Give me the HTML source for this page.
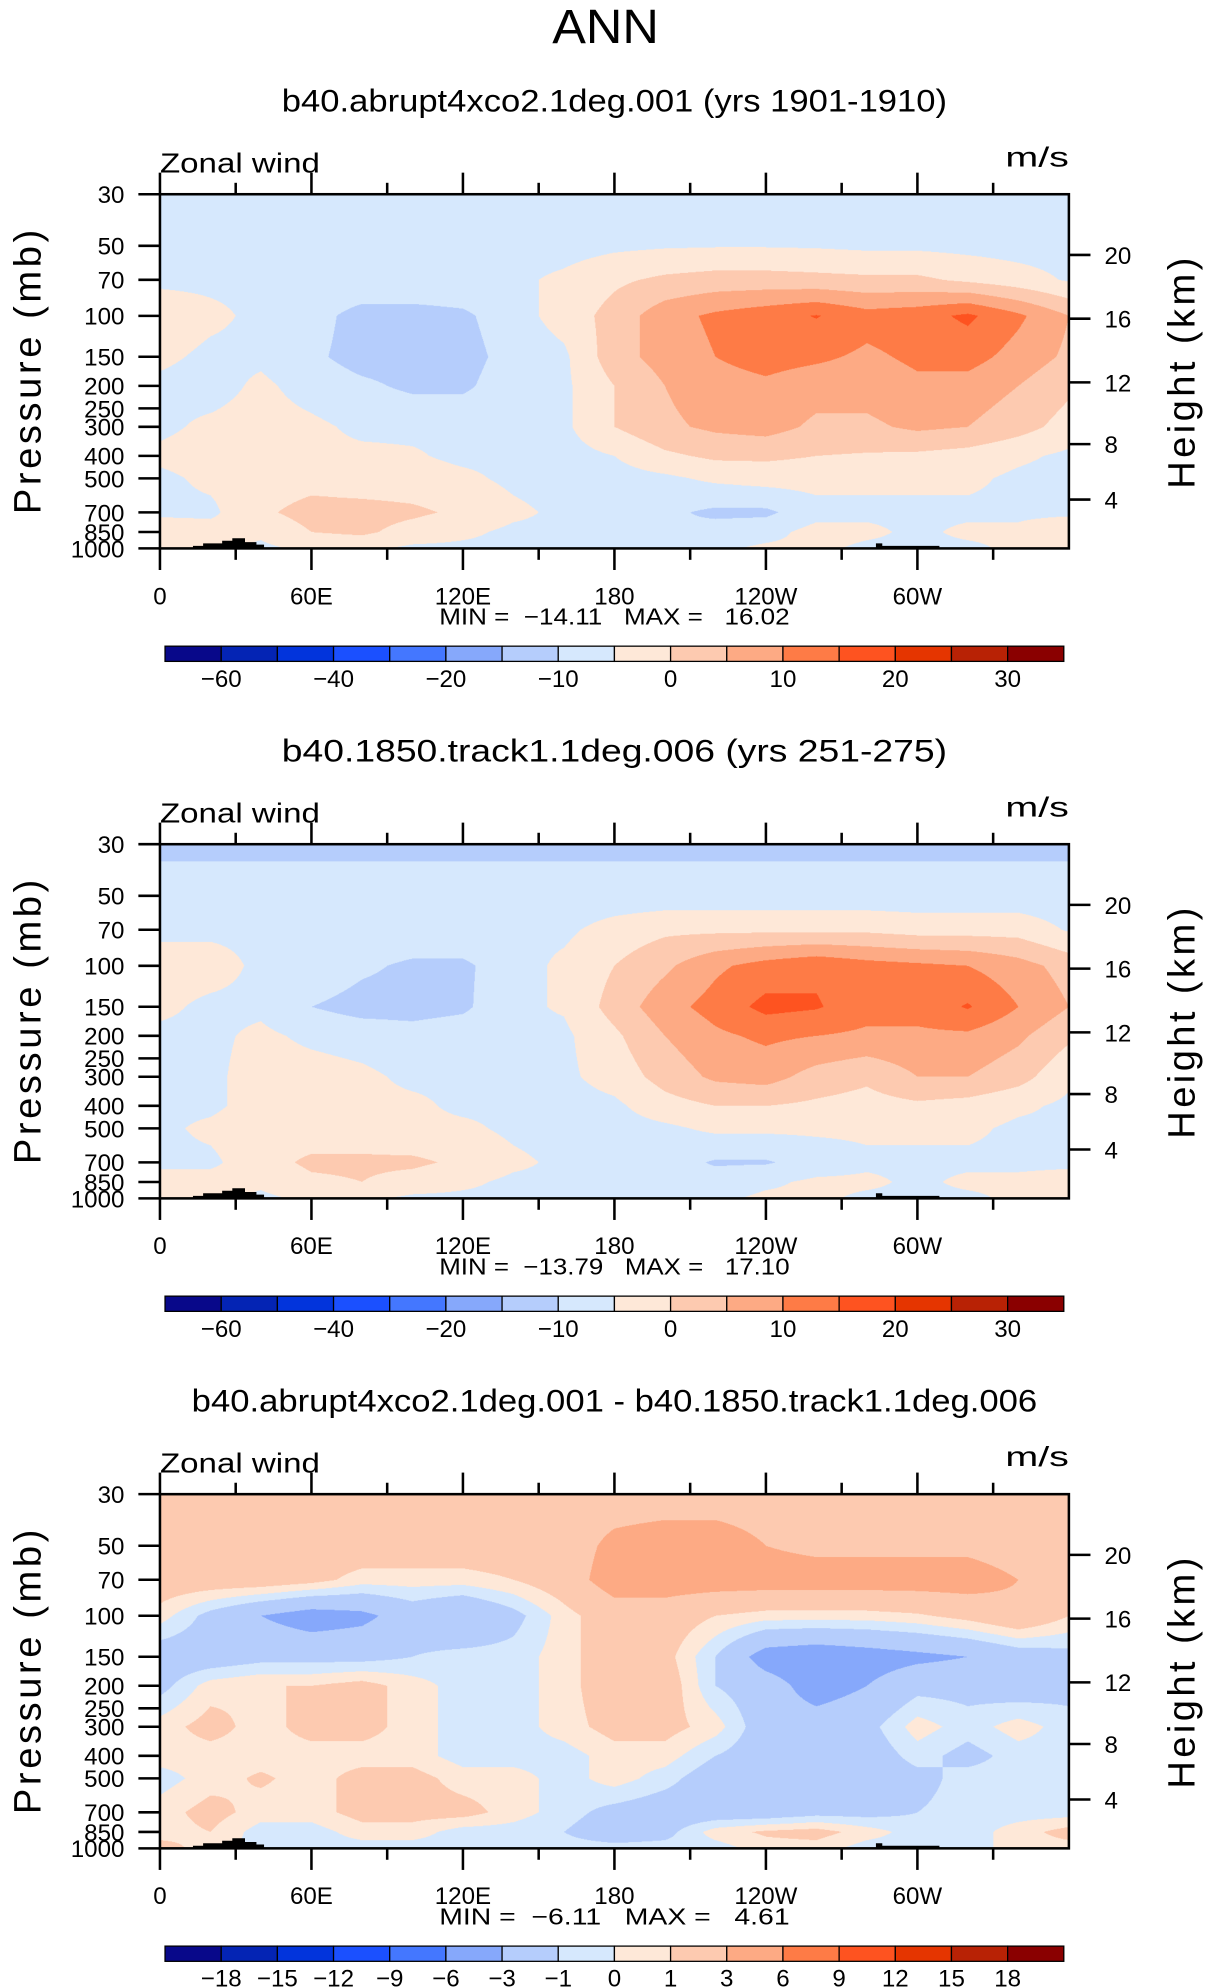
<!DOCTYPE html>
<html><head><meta charset="utf-8">
<style>
html,body{margin:0;padding:0;background:#fff;}
#wrap{position:relative;width:950px;height:1565px;transform:scale(1.26947);transform-origin:0 0;overflow:hidden;}
canvas{position:absolute;left:126px;width:716px;height:279px;}
svg{position:absolute;left:0;top:0;}
text{font-family:"Liberation Sans",sans-serif;fill:#000;white-space:pre;}
</style></head>
<body>
<div id="wrap">
<canvas id="c0" width="1432" height="558" style="top:153px"></canvas>
<canvas id="c1" width="1432" height="558" style="top:665px"></canvas>
<canvas id="c2" width="1432" height="558" style="top:1177px"></canvas>
<svg id="ov" width="950" height="1565" viewBox="0 0 950 1565">
<text x="477" y="34" font-size="38" text-anchor="middle" textLength="84" lengthAdjust="spacingAndGlyphs">ANN</text>
</svg>
</div>
<script>
const lons=[0,20,40,60,80,100,120,140,160,180,200,220,240,260,280,300,320,340,360];
const levs=[30,50,70,100,150,200,300,400,500,700,850,1000];
const caseU1=[
[-8,-8,-8,-8,-8,-8,-8,-8,-8,-8,-8,-8,-8,-8,-8,-8,-8,-8,-8],
[-7,-7,-7,-7,-7,-7,-7,-7,-7,-6,-5.5,-5.3,-5.3,-5.5,-6,-6,-6.5,-7,-7],
[-6,-6,-6,-6,-6,-6,-6,-6,-4,-1,1,2,2,1.5,1,1,-1,-3,-5.5],
[-2,-4,-6,-8,-12,-12,-11,-7,-3,2,8,11,13,15.3,12,13,16,11,5],
[-4,-6,-6,-9,-12,-12,-12,-8,-6,3,7,10,12,11,9,11,12,8,4],
[-6,-7,-4,-7,-9,-11,-11,-7,-6,0,5,8,9,7,7,9,8,5,1],
[-6,-4,-3,-4,-6,-6,-6,-6,-6,0,4,6,7,4,4,6,5,2,-2],
[-4,-3,-4,-4,-4,-4.5,-6,-6,-7,-5,-1,1,1,0,-0.5,-1,-2,-4,-6],
[-6,-4,-3,-2,-3,-3,-4,-6,-7,-7,-6,-4,-3,-3,-4,-4,-4,-6,-7],
[-6,-6,-1,2,2,1,-1,-4,-6,-7,-9,-11,-11,-7,-6,-6,-6,-6,-6],
[-2,-3,-4,0,1,-2,-4,-6,-6,-7,-10,-8,-7,-3,-4,-6,-4,-4,-1],
[-3,-4,-6,-4,-4,-6,-6,-6,-6,-6,-6,-6,-4,-4,-6,-6,-6,-4,-3]];
const caseU2=[
[-11,-11,-11,-11,-11,-11,-11,-11,-11,-11,-11,-11,-11,-11,-11,-11,-11,-11,-11],
[-8,-8,-8,-8,-8,-8,-8,-8,-8,-8,-8,-8,-8,-8,-8,-8,-8,-8,-8],
[-6,-6,-6,-6,-6,-6,-6,-6,-6,-3,-1,-1,-1,-1,-1,-2,-2,-2,-5.5],
[-3,-3,-6,-6,-9,-11,-11,-7,-4,0,4,9,12,14,12,11,10,7,3],
[-4,-6,-6,-10,-12,-12,-11,-6,-4.5,2,8,12,16.5,15.5,12,12,15.5,10,5],
[-6,-6,-4,-6,-7,-8,-7,-6,-6,-1,5,9,11,10,9,9,9,6,1],
[-7,-6,-3,-3,-4,-6,-6,-6,-6,-3,2,6,7,3,1,5,5,2,-4],
[-6,-6,-3,-3,-4,-4,-6,-6,-7,-6,-2,0,0,-1,-2,-1,-2,-4,-6],
[-6,-4,-2,-3,-3,-4,-4,-6,-7,-7,-6,-4,-4,-4,-4,-4,-4,-6,-6],
[-6,-6,-2,1,1,1,-1,-4,-6,-7,-8,-10.5,-10.5,-8,-6,-6,-6,-6,-6],
[-3,-3,-4,-1,0,-2,-4,-6,-6,-7,-9,-8,-6,-4,-4,-6,-4,-4,-3],
[-3,-4,-6,-4,-4,-6,-6,-6,-6,-6,-6,-6,-4,-4,-6,-6,-6,-4,-3]];
const diffU=[
[2,2,2,2,2,2,2,2,2,2,2,2,2,2,2,2,2,2,2],
[2,2,2,2,2,2,2,2,2,3.5,4,4,3,2.5,2.5,2.5,2.5,2,2],
[2,2,2,1.5,0.5,0.5,0.5,1,2,4,4,4,4,4,4,4,4,3,2],
[0.5,-1.5,-3,-4,-3.5,-2,-3,-1.5,0.5,2,2,1,0.5,0.5,0.5,0.8,1.5,2.5,1],
[-2,-2,-1.5,-1.5,-1.5,-1,-0.5,-0.5,0.5,2,1.5,-1,-4,-4.5,-4,-3.5,-3,-2,-1.5],
[-1.5,0.5,1,1,1.5,0.5,-0.5,-0.5,0.5,2,2,-1,-2,-4,-3,-1.5,-1.5,-2,-1.5],
[0.5,1.5,0.5,1.5,1.5,0.5,-0.5,-0.5,0.5,1.5,1.5,0.5,-2,-2,-1.5,0.5,-0.5,0.5,-0.5],
[0.5,0.5,0.5,0.5,0.5,0.5,-0.5,-0.5,-0.5,0.5,0.5,-1,-2,-2,-2,-0.5,-1.5,-0.5,-0.5],
[-0.5,0.5,1.2,0.5,1.5,1.5,0.5,0.5,-0.5,0.5,-0.5,-2,-2,-2,-2,-1.5,-0.5,-0.5,-0.5],
[0.5,1.5,0.5,0.5,1.5,1.5,1.5,0.5,-0.5,-1.5,-2,-2,-2,-1.5,-1.5,-1,-0.5,-0.5,-0.5],
[0.5,1,-0.5,-0.5,0.5,0.5,-0.5,-0.5,-1,-2,-1.5,0.5,1.2,1.5,0.5,-0.5,-0.5,0.5,1.5],
[1.5,0.5,-0.5,-0.5,-0.5,-0.5,-0.5,-0.5,-0.5,-0.5,-0.5,-0.5,0.5,0.5,-0.5,-0.5,-0.5,0.5,0.5]];
const levelsAbs=[-60,-50,-40,-30,-20,-15,-10,-5,0,5,10,15,20,25,30];
const levelsDiff=[-18,-15,-12,-9,-6,-3,-1,0,1,3,6,9,12,15,18];
const labelsAbs=["-60","-40","-20","-10","0","10","20","30"];
const labelsDiff=["-18","-15","-12","-9","-6","-3","-1","0","1","3","6","9","12","15","18"];
const colors=["#08088a","#0424b4","#0234dc","#1b50ff","#4477ff","#86a8fb","#b5cdfc","#d6e8fd","#fee8d8","#fdcab0","#fdaa84","#fe7b46","#fe5320","#e53500","#b82205","#8a0000"];
const pLabels=[30,50,70,100,150,200,250,300,400,500,700,850,1000];
const hLabels=[4,8,12,16,20];
const xTickLons=[0,60,120,180,240,300];
const xTickNames=["0","60E","120E","180","120W","60W"];
const minmax=[["\u221214.11","16.02"],["\u221213.79","17.10"],["\u22126.11","4.61"]];
const titles=["b40.abrupt4xco2.1deg.001 (yrs 1901-1910)","b40.1850.track1.1deg.006 (yrs 251-275)","b40.abrupt4xco2.1deg.001 - b40.1850.track1.1deg.006"];

const X0=126,W=716,H=279,TOP=153;
function xScale(lon){return X0+lon/360*W;}
function yScale(p){return TOP+Math.log(p/30)/Math.log(1000/30)*H;}
function zToP(z){return z<=11?1013.25*Math.pow(1-z/44.33,5.255):226.3*Math.exp(-(z-11)/6.34);}
function hexRGB(h){return [parseInt(h.substr(1,2),16),parseInt(h.substr(3,2),16),parseInt(h.substr(5,2),16)];}
const rgb=colors.map(hexRGB);

function sample(grid,lon,p){
  let i=Math.min(lons.length-2,Math.floor(lon/(lons[1]-lons[0])));
  let fx=(lon-lons[i])/(lons[i+1]-lons[i]);
  let lp=Math.log(p),j=0;
  while(j<levs.length-2&&Math.log(levs[j+1])<lp)j++;
  let fy=(lp-Math.log(levs[j]))/(Math.log(levs[j+1])-Math.log(levs[j]));
  fy=Math.max(0,Math.min(1,fy));
  const a=grid[j][i],b=grid[j][i+1],c=grid[j+1][i],d=grid[j+1][i+1];
  return (a*(1-fx)+b*fx)*(1-fy)+(c*(1-fx)+d*fx)*fy;
}
function draw(id,grid,bounds){
  const cv=document.getElementById(id),ctx=cv.getContext('2d');
  const w=cv.width,h=cv.height,img=ctx.createImageData(w,h);
  for(let y=0;y<h;y++){
    const p=30*Math.pow(1000/30,(y+0.5)/h);
    for(let x=0;x<w;x++){
      const v=sample(grid,(x+0.5)/w*360,p);
      let k=0;while(k<bounds.length&&v>=bounds[k])k++;
      const c=rgb[k],o=(y*w+x)*4;
      img.data[o]=c[0];img.data[o+1]=c[1];img.data[o+2]=c[2];img.data[o+3]=255;
    }
  }
  ctx.putImageData(img,0,0);
}
draw('c0',caseU1,levelsAbs);
draw('c1',caseU2,levelsAbs);
draw('c2',diffU,levelsDiff);

const NS="http://www.w3.org/2000/svg",ov=document.getElementById('ov');
function mk(tag,attrs,txt){const e=document.createElementNS(NS,tag);for(const k in attrs)e.setAttribute(k,attrs[k]);if(txt!==undefined)e.textContent=txt;ov.appendChild(e);return e;}

for(let n=0;n<3;n++){
  const off=n*512;
  let e=mk('text',{x:484,y:88+off,'font-size':25,'text-anchor':'middle',textLength:n==2?666:524,lengthAdjust:'spacingAndGlyphs'},titles[n]);
  
  
  e=mk('text',{x:126,y:136+off,'font-size':22,textLength:126,lengthAdjust:'spacingAndGlyphs'},'Zonal wind');
  
  
  e=mk('text',{x:842,y:131+off,'font-size':22,'text-anchor':'end',textLength:50,lengthAdjust:'spacingAndGlyphs'},'m/s');
  
  
  e=mk('rect',{x:X0,y:TOP+off,width:W,height:H,fill:'none',stroke:'#000','stroke-width':2});
  
  
  const topo=[[152,0],[152,-2],[160,-2],[160,-4],[175,-4],[175,-6],[183,-6],[183,-8],[193,-8],[193,-5],[202,-5],[202,-3],[208,-3],[208,0],[690,0],[690,-4],[695,-4],[695,-2],[740,-2],[740,0]];
  e=mk('path',{d:'M'+topo.slice(0,14).map(q=>q[0]+','+(TOP+H+off+q[1])).join('L')+'Z M'+topo.slice(14).map(q=>q[0]+','+(TOP+H+off+q[1])).join('L')+'Z',fill:'#000'});
  
  
  for(let lon=0;lon<=330;lon+=30){
    const x=xScale(lon),maj=lon%60==0;
    e=mk('line',{x1:x,x2:x,y1:TOP+off-(maj?17:9),y2:TOP+off,stroke:'#000','stroke-width':2});
    
    
    e=mk('line',{x1:x,x2:x,y1:TOP+H+off,y2:TOP+H+off+(maj?17:9),stroke:'#000','stroke-width':2});
    
    
  }
  xTickLons.forEach((lon,i)=>{
    const t=mk('text',{x:xScale(lon),y:476+off,'font-size':19,'text-anchor':'middle'},xTickNames[i]);
    
    
  });
  pLabels.forEach(p=>{
    const y=yScale(p)+off;
    let t=mk('line',{x1:X0-17,x2:X0,y1:y,y2:y,stroke:'#000','stroke-width':2});
    
    
    t=mk('text',{x:98,y:y+7,'font-size':19,'text-anchor':'end'},String(p));
    
    
  });
  hLabels.forEach(z=>{
    const y=yScale(zToP(z))+off;
    let t=mk('line',{x1:X0+W,x2:X0+W+17,y1:y,y2:y,stroke:'#000','stroke-width':2});
    
    
    t=mk('text',{x:870,y:y+7,'font-size':19},String(z));
    
    
  });
  e=mk('text',{x:0,y:0,'font-size':30,'text-anchor':'middle',textLength:224,lengthAdjust:'spacing',transform:'translate(32,'+(293+off)+') rotate(-90)'},'Pressure (mb)');
  
  
  e=mk('text',{x:0,y:0,'font-size':30,'text-anchor':'middle',textLength:182,lengthAdjust:'spacing',transform:'translate(941,'+(294+off)+') rotate(-90)'},'Height (km)');
  
  
  e=mk('text',{x:484,y:492+off,'font-size':18,'text-anchor':'middle',textLength:276,lengthAdjust:'spacingAndGlyphs'},'MIN =  '+minmax[n][0]+'   MAX =   '+minmax[n][1]);
  
  
  const bw=708/16;
  for(let k=0;k<16;k++){
    const r=mk('rect',{x:130+k*bw,y:509+off,width:bw,height:12,fill:colors[k],stroke:'#000','stroke-width':1});
    
    
  }
  const labs=n<2?labelsAbs:labelsDiff;
  labs.forEach((s,i)=>{
    const j=n<2?2*i+1:i+1;
    const t=mk('text',{x:130+j*bw,y:541+off,'font-size':19,'text-anchor':'middle'},s.replace('-','\u2212'));
    
    
  });
}
</script>
</body></html>
